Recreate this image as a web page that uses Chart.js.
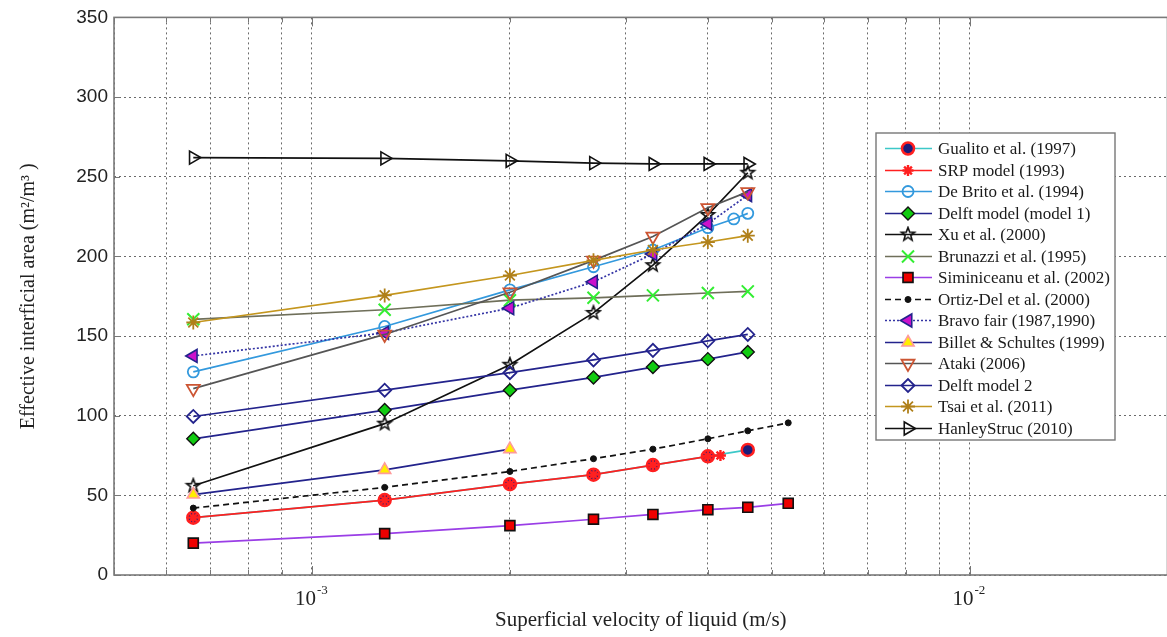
<!DOCTYPE html>
<html>
<head>
<meta charset="utf-8">
<script src="https://cdn.jsdelivr.net/npm/chart.js@4.4.1/dist/chart.umd.min.js"></script>
<style>
  html, body { margin: 0; padding: 0; background: #fff; overflow: hidden; }
  #wrap { width: 1178px; height: 637px; }
</style>
</head>
<body>
<div id="wrap"><canvas id="chart" width="1178" height="637"></canvas></div>
<script>
// superficial liquid velocity (m/s) used by most correlations
const uL = [6.6e-4, 1.29e-3, 2.0e-3, 2.68e-3, 3.3e-3, 4.0e-3, 4.6e-3];
const uLong = [6.6e-4, 1.29e-3, 2.0e-3, 2.68e-3, 3.3e-3, 4.0e-3, 4.6e-3, 5.3e-3];
const uSRP = [6.6e-4, 1.29e-3, 2.0e-3, 2.68e-3, 3.3e-3, 4.0e-3, 4.18e-3];
const uDeBrito = [6.6e-4, 1.29e-3, 2.0e-3, 2.68e-3, 3.3e-3, 4.0e-3, 4.38e-3, 4.6e-3];
const uBillet = [6.6e-4, 1.29e-3, 2.0e-3];

// effective interfacial area (m2/m3)
const aGualito = [36, 47, 57, 63, 69, 74.5, 78.5];
const aSRP = [36, 47, 57, 63, 69, 74.5, 75];
const aDeBrito = [127.5, 156, 179, 193.5, 204, 218, 223.5, 227];
const aDelft1 = [85.5, 103.5, 116, 124, 130.5, 135.5, 140];
const aXu = [56, 95, 132, 164.5, 194.5, 226, 252.5];
const aBrunazzi = [160.5, 166.5, 172.5, 174, 175.5, 177, 178];
const aSiminiceanu = [20, 26, 31, 35, 38, 41, 42.5, 45];
const aOrtiz = [42, 55, 65, 73, 79, 85.5, 90.5, 95.5];
const aBravo = [137.5, 152, 167.5, 184, 201.5, 220.5, 238.5];
const aBillet = [50.5, 66, 79];
const aAtaki = [117, 151, 177.5, 197.5, 212.5, 230.5, 240.5];
const aDelft2 = [99.5, 116, 127, 135, 141, 147, 151];
const aTsai = [158.5, 175.5, 188, 197.5, 204, 209, 213];
const aHanley = [262, 261.5, 260, 258.5, 258, 258, 258];

const xTicks = [5e-4, 6e-4, 7e-4, 8e-4, 9e-4, 1e-3, 2e-3, 3e-3, 4e-3, 5e-3, 6e-3, 7e-3, 8e-3, 9e-3, 1e-2, 2e-2];
const xLabelTicks = [1e-3, 1e-2];
const xLabelExp = ['-3', '-2'];

const SERIF = '"Liberation Serif", "Times New Roman", serif';

function pts(xs, ys) {
  return ys.map((y, i) => ({ x: xs[i], y }));
}

// matlab-like pentagram marker, chart.js has no such pointStyle
function pentagram(r, color) {
  const c = document.createElement('canvas');
  c.width = c.height = Math.ceil(2 * r + 4);
  const g = c.getContext('2d');
  const cx = c.width / 2, cy = c.height / 2;
  g.beginPath();
  for (let i = 0; i < 10; i++) {
    const rr = i % 2 ? r * 0.42 : r;
    const ang = -Math.PI / 2 + (i * Math.PI) / 5;
    g.lineTo(cx + rr * Math.cos(ang), cy + rr * Math.sin(ang));
  }
  g.closePath();
  g.strokeStyle = color;
  g.lineWidth = 1.6;
  g.stroke();
  return c;
}

const series = [
  { label: 'Gualito et al. (1997)', data: pts(uL, aGualito), line: '#3cc8c8', style: 'circle', r: 6, fill: '#1c1c7a', edge: '#ff2020', bw: 2.5 },
  { label: 'SRP model (1993)', data: pts(uSRP, aSRP), line: '#ff2020', style: 'star', r: 5.5, fill: '#ff2020', edge: '#ff2020', bw: 2.4 },
  { label: 'De Brito et al. (1994)', data: pts(uDeBrito, aDeBrito), line: '#3399dd', style: 'circle', r: 5.5, fill: 'rgba(0,0,0,0)', edge: '#3399dd', bw: 1.8 },
  { label: 'Delft model (model 1)', data: pts(uL, aDelft1), line: '#23238c', style: 'rectRot', r: 6.5, fill: '#11cc11', edge: '#111', bw: 1.4 },
  { label: 'Xu et al. (2000)', data: pts(uL, aXu), line: '#111', style: pentagram(7, '#111'), r: 7, fill: '#111', edge: '#111', bw: 1.6 },
  { label: 'Brunazzi et al. (1995)', data: pts(uL, aBrunazzi), line: '#6f6f5a', style: 'crossRot', r: 8.5, fill: '#33ee33', edge: '#33ee33', bw: 2 },
  { label: 'Siminiceanu et al. (2002)', data: pts(uLong, aSiminiceanu), line: '#9a3ee6', style: 'rect', r: 7, fill: '#ee0000', edge: '#111', bw: 1.7 },
  { label: 'Ortiz-Del et al. (2000)', data: pts(uLong, aOrtiz), line: '#111', dash: [6, 4], style: 'circle', r: 3, fill: '#111', edge: '#111', bw: 1 },
  { label: 'Bravo fair (1987,1990)', data: pts(uL, aBravo), line: '#3535a5', dash: [2, 2], style: 'triangle', rot: -90, r: 7.5, fill: '#cc11cc', edge: '#23238c', bw: 1.6 },
  { label: 'Billet & Schultes (1999)', data: pts(uBillet, aBillet), line: '#23238c', style: 'triangle', r: 7, fill: '#ffee00', edge: '#ff9a9a', bw: 1.6 },
  { label: 'Ataki (2006)', data: pts(uL, aAtaki), line: '#555', style: 'triangle', rot: 180, r: 7.5, fill: 'rgba(0,0,0,0)', edge: '#cc5533', bw: 1.8 },
  { label: 'Delft model 2', data: pts(uL, aDelft2), line: '#23238c', style: 'rectRot', r: 6.5, fill: 'rgba(0,0,0,0)', edge: '#23238c', bw: 1.8 },
  { label: 'Tsai et al. (2011)', data: pts(uL, aTsai), line: '#c4961e', style: 'star', r: 7, fill: '#b0801a', edge: '#b0801a', bw: 1.8 },
  { label: 'HanleyStruc (2010)', data: pts(uL, aHanley), line: '#111', style: 'triangle', rot: 90, r: 7.5, fill: 'rgba(0,0,0,0)', edge: '#111', bw: 1.6 },
];

// axes box, inward ticks and 10^n labels like the matlab figure
const framePlugin = {
  id: 'frame',
  afterDraw(chart) {
    const { ctx, chartArea: a, scales } = chart;
    ctx.save();
    ctx.strokeStyle = '#777';
    ctx.lineWidth = 1;
    ctx.beginPath();
    xTicks.forEach((v) => {
      const px = Math.round(scales.x.getPixelForValue(v)) + 0.5;
      const len = xLabelTicks.includes(v) ? 9 : 5;
      ctx.moveTo(px, a.bottom);
      ctx.lineTo(px, a.bottom - len);
      ctx.moveTo(px, a.top);
      ctx.lineTo(px, a.top + len);
    });
    scales.y.ticks.forEach((t) => {
      const py = Math.round(scales.y.getPixelForValue(t.value)) + 0.5;
      ctx.moveTo(a.left, py);
      ctx.lineTo(a.left + 6, py);
    });
    ctx.stroke();

    ctx.strokeStyle = '#7a7a7a';
    ctx.lineWidth = 1.6;
    ctx.strokeRect(a.left, a.top, a.right - a.left, a.bottom - a.top);

    ctx.fillStyle = '#222';
    xLabelTicks.forEach((v, i) => {
      const px = scales.x.getPixelForValue(v);
      ctx.font = '21px ' + SERIF;
      ctx.textAlign = 'right';
      ctx.textBaseline = 'alphabetic';
      ctx.fillText('10', px + 4, 605);
      ctx.font = '13px ' + SERIF;
      ctx.textAlign = 'left';
      ctx.fillText(xLabelExp[i], px + 5, 594);
    });
    ctx.restore();
  },
};

const legendPlugin = {
  id: 'boxLegend',
  afterDraw(chart) {
    const { ctx } = chart;
    ctx.save();
    ctx.fillStyle = '#fff';
    ctx.fillRect(876, 133, 239, 307);
    ctx.strokeStyle = '#777';
    ctx.lineWidth = 1.4;
    ctx.strokeRect(876, 133, 239, 307);
    series.forEach((s, i) => {
      const y = Math.round(148 + i * 21.5) + 0.5;
      ctx.strokeStyle = s.line;
      ctx.lineWidth = 1.7;
      ctx.setLineDash(s.dash || []);
      ctx.beginPath();
      ctx.moveTo(885, y);
      ctx.lineTo(932, y);
      ctx.stroke();
      ctx.setLineDash([]);
      ctx.fillStyle = s.fill;
      ctx.strokeStyle = s.edge;
      ctx.lineWidth = s.bw;
      Chart.helpers.drawPoint(ctx, { pointStyle: s.style, rotation: s.rot || 0, radius: s.r, borderWidth: s.bw }, 908, y);
      ctx.fillStyle = '#1a1a1a';
      ctx.font = '17px ' + SERIF;
      ctx.textAlign = 'left';
      ctx.textBaseline = 'middle';
      ctx.fillText(s.label, 938, y + 1);
    });
    ctx.restore();
  },
};

new Chart(document.getElementById('chart').getContext('2d'), {
  type: 'line',
  data: {
    datasets: series.map((s, i) => ({
      label: s.label,
      data: s.data,
      order: -i, // later series on top, as in matlab
      borderColor: s.line,
      borderWidth: 1.7,
      borderDash: s.dash || [],
      pointStyle: s.style,
      pointRadius: s.r,
      pointHoverRadius: s.r,
      pointRotation: s.rot || 0,
      pointBackgroundColor: s.fill,
      pointBorderColor: s.edge,
      pointBorderWidth: s.bw,
      tension: 0,
      fill: false,
    })),
  },
  options: {
    responsive: false,
    animation: false,
    layout: { padding: { top: 14, right: 2, left: 0, bottom: 0 } },
    plugins: { legend: { display: false }, tooltip: { enabled: false } },
    scales: {
      x: {
        type: 'logarithmic',
        min: 5e-4,
        max: 2e-2,
        afterBuildTicks: (scale) => {
          scale.ticks = xTicks.map((v) => ({ value: v }));
        },
        afterFit: (scale) => {
          scale.height = 62;
        },
        ticks: { display: false },
        grid: { color: '#6a6a6a', lineWidth: 1, drawTicks: false },
        border: { display: false, dash: [2, 3] },
        title: {
          display: true,
          text: 'Superficial velocity of liquid (m/s)',
          color: '#222',
          font: { family: SERIF, size: 21 },
          padding: { top: 0, bottom: 4 },
        },
      },
      y: {
        min: 0,
        max: 350,
        ticks: {
          stepSize: 50,
          padding: 6,
          color: '#222',
          font: { family: '"Liberation Sans", Arial, sans-serif', size: 19 },
        },
        afterFit: (scale) => {
          scale.width = 114;
        },
        grid: { color: '#6a6a6a', lineWidth: 1, drawTicks: false },
        border: { display: false, dash: [2, 3] },
        title: {
          display: true,
          text: 'Effective interficial area (m²/m³ )',
          color: '#222',
          font: { family: SERIF, size: 20 },
          padding: { top: 17, bottom: 0 },
        },
      },
    },
  },
  plugins: [framePlugin, legendPlugin],
});
</script>
</body>
</html>
